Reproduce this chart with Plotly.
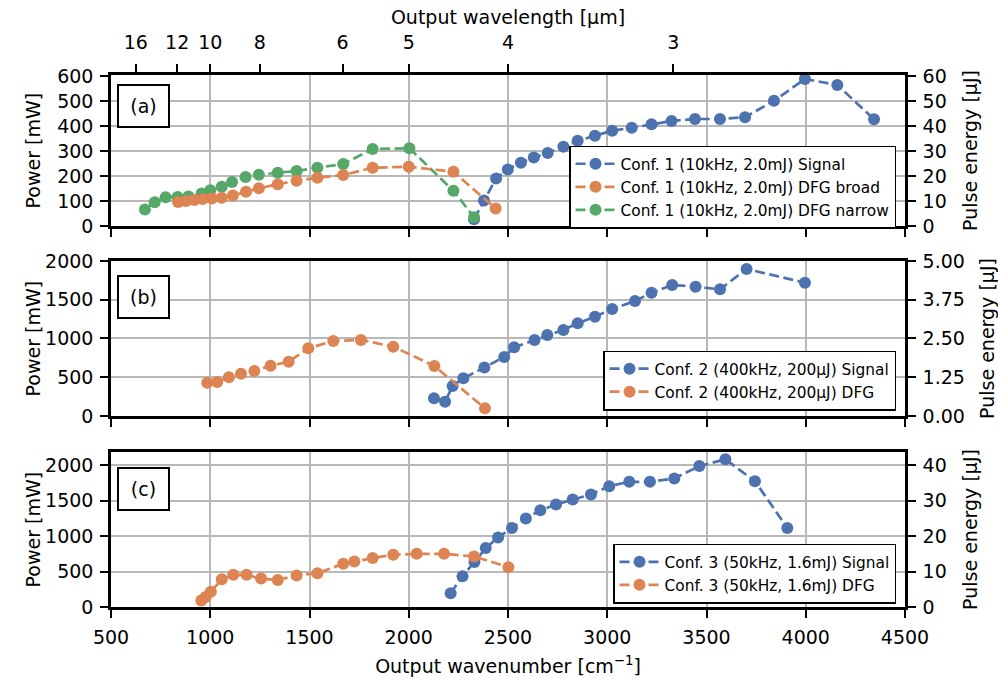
import plotly.graph_objects as go

# ---------------- data ----------------
# Panel (a): Conf. 1 (10kHz, 2.0mJ)
sig1_x = [2329, 2379, 2440, 2499, 2565, 2630, 2700, 2779, 2851, 2938, 3025, 3123, 3223, 3324, 3442, 3568, 3694, 3840, 3996, 4159, 4344]
sig1_y = [27, 102, 190, 226, 253, 274, 292, 317, 341, 361, 381, 393, 407, 420, 428, 428, 435, 501, 588, 564, 427]
broad1_x = [838, 878, 920, 962, 1008, 1058, 1114, 1180, 1245, 1340, 1435, 1540, 1670, 1818, 2000, 2225, 2438]
broad1_y = [96, 100, 104, 108, 110, 113, 122, 137, 151, 167, 181, 193, 204, 233, 237, 217, 70]
narrow1_x = [671, 720, 775, 835, 890, 957, 1000, 1058, 1110, 1178, 1245, 1340, 1435, 1540, 1670, 1818, 2003, 2225, 2329]
narrow1_y = [66, 95, 115, 116, 118, 130, 143, 157, 176, 196, 205, 213, 220, 233, 248, 308, 311, 141, 35]

# Panel (b): Conf. 2 (400kHz, 200µJ)
sig2_x = [2127, 2183, 2221, 2275, 2381, 2481, 2531, 2634, 2698, 2779, 2851, 2938, 3025, 3140, 3223, 3327, 3445, 3568, 3702, 3996]
sig2_y = [228, 185, 387, 486, 626, 762, 886, 981, 1045, 1110, 1196, 1282, 1381, 1484, 1591, 1690, 1669, 1634, 1897, 1720]
dfg2_x = [985, 1035, 1094, 1155, 1222, 1304, 1395, 1494, 1620, 1759, 1922, 2129, 2384]
dfg2_y = [430, 440, 499, 546, 581, 649, 701, 873, 968, 981, 895, 645, 99]

# Panel (c): Conf. 3 (50kHz, 1.6mJ)
sig3_x = [2211, 2271, 2331, 2388, 2450, 2520, 2590, 2663, 2742, 2826, 2918, 3010, 3111, 3215, 3338, 3464, 3595, 3744, 3907]
sig3_y = [193, 434, 635, 830, 981, 1114, 1246, 1364, 1444, 1514, 1585, 1703, 1764, 1764, 1812, 1986, 2081, 1774, 1114]
dfg3_x = [955, 977, 1003, 1058, 1116, 1183, 1256, 1340, 1435, 1540, 1670, 1726, 1818, 1922, 2040, 2178, 2329, 2502]
dfg3_y = [90, 140, 215, 392, 453, 453, 400, 382, 443, 477, 609, 642, 689, 736, 750, 750, 712, 562]

# axis ticks
wn_ticks = [500, 1000, 1500, 2000, 2500, 3000, 3500, 4000, 4500]
wl_labels = [16, 12, 10, 8, 6, 5, 4, 3]
ya_ticks = [0, 100, 200, 300, 400, 500, 600]
ya_r_ticks = [0, 10, 20, 30, 40, 50, 60]
yb_ticks = [0, 500, 1000, 1500, 2000]
yb_r_ticks = [0, 1.25, 2.5, 3.75, 5.0]
yb_r_text = ["0.00", "1.25", "2.50", "3.75", "5.00"]
yc_ticks = [0, 500, 1000, 1500, 2000]
yc_r_ticks = [0, 10, 20, 30, 40]

BLUE = "#4c72b0"
ORANGE = "#dd8452"
GREEN = "#55a868"
FONT = "DejaVu Sans"
FS = 19          # ticks, titles, panel labels
LFS = 15.4       # legend

fig = go.Figure()


def add(x, y, name, color, xa, ya, legend, rank):
    fig.add_trace(go.Scatter(
        x=x, y=y, name=name, mode="lines+markers",
        line=dict(color=color, width=2.7, dash="10px,4.5px"),
        marker=dict(color=color, size=12, line=dict(width=0)),
        xaxis=xa, yaxis=ya, legend=legend, legendrank=rank,
    ))


add(sig1_x, sig1_y, "Conf. 1 (10kHz, 2.0mJ) Signal", BLUE, "x", "y", "legend", 1)
add(narrow1_x, narrow1_y, "Conf. 1 (10kHz, 2.0mJ) DFG narrow", GREEN, "x", "y", "legend", 3)
add(broad1_x, broad1_y, "Conf. 1 (10kHz, 2.0mJ) DFG broad", ORANGE, "x", "y", "legend", 2)
add(sig2_x, sig2_y, "Conf. 2 (400kHz, 200µJ) Signal", BLUE, "x2", "y3", "legend2", 1)
add(dfg2_x, dfg2_y, "Conf. 2 (400kHz, 200µJ) DFG", ORANGE, "x2", "y3", "legend2", 2)
add(sig3_x, sig3_y, "Conf. 3 (50kHz, 1.6mJ) Signal", BLUE, "x3", "y5", "legend3", 1)
add(dfg3_x, dfg3_y, "Conf. 3 (50kHz, 1.6mJ) DFG", ORANGE, "x3", "y5", "legend3", 2)

# empty helper traces so that the secondary axes get drawn
for xa, ya in [("x", "y2"), ("x2", "y4"), ("x3", "y6"), ("x4", "y")]:
    fig.add_trace(go.Scatter(x=[None], y=[None], xaxis=xa, yaxis=ya, mode="markers",
                             showlegend=False, hoverinfo="skip"))

GRID = "#b8b8b8"
common_axis = dict(
    showline=True, linecolor="black", linewidth=2.5,
    ticks="outside", ticklen=8, tickwidth=2, tickcolor="black",
    tickfont=dict(family=FONT, size=FS, color="black"),
    zeroline=False, ticklabelstandoff=3, automargin=False,
)


def title(text, standoff):
    return dict(text=text, font=dict(family=FONT, size=FS, color="black"), standoff=standoff)


def xax(anchor, labels, **kw):
    d = dict(common_axis)
    d.update(domain=[0, 1], anchor=anchor, range=[500, 4500],
             tickvals=wn_ticks, showticklabels=labels,
             showgrid=True, gridcolor=GRID, gridwidth=2, mirror=True)
    d.update(kw)
    return d


def yleft(domain, anchor, rng, ticks):
    d = dict(common_axis)
    d.update(domain=domain, anchor=anchor, range=rng, tickvals=ticks,
             showgrid=True, gridcolor=GRID, gridwidth=2)
    return d


def yright(over, anchor, rng, ticks, standoff, text=None):
    d = dict(common_axis)
    d.update(overlaying=over, anchor=anchor, side="right", range=rng, tickvals=ticks,
             showgrid=False, title=title("Pulse energy [µJ]", standoff))
    if text is not None:
        d["ticktext"] = text
    return d


dom_a = [0.7162, 1.0]
dom_b = [0.359, 0.6504]
dom_c = [0.0, 0.2914]

legend_common = dict(
    bgcolor="white", bordercolor="black", borderwidth=1.5,
    font=dict(family=FONT, size=LFS, color="black"),
    xanchor="right", yanchor="bottom", tracegroupgap=0, itemwidth=40,
)

top_axis = dict(common_axis)
top_axis.update(overlaying="x", anchor="y", side="top", range=[500, 4500],
                tickvals=[10000 / w for w in wl_labels], ticktext=[str(w) for w in wl_labels],
                showgrid=False, ticklabelstandoff=8, title=title("Output wavelength [µm]", 2))

fig.update_layout(
    width=998, height=681,
    margin=dict(l=111, r=93, t=75, b=74, autoexpand=False),
    plot_bgcolor="white", paper_bgcolor="white",
    font=dict(family=FONT, size=FS, color="black"),
    xaxis=xax("y", False),
    xaxis2=xax("y3", False),
    xaxis3=xax("y5", True, title=title("Output wavenumber [cm<sup>−1</sup>]", 14)),
    xaxis4=top_axis,
    yaxis=yleft(dom_a, "x", [0, 604], ya_ticks),
    yaxis2=yright("y", "x", [0, 60.4], ya_r_ticks, 18),
    yaxis3=yleft(dom_b, "x2", [0, 2000], yb_ticks),
    yaxis4=yright("y3", "x2", [0, 5.0], yb_r_ticks, 19, yb_r_text),
    yaxis5=yleft(dom_c, "x3", [0, 2185], yc_ticks),
    yaxis6=yright("y5", "x3", [0, 43.7], yc_r_ticks, 18),
    legend=dict(legend_common, x=0.9887, y=0.711),
    legend2=dict(legend_common, x=0.9887, y=0.369),
    legend3=dict(legend_common, x=0.9887, y=0.006),
    showlegend=True,
)

# left axis titles (aligned to the same x for all panels, like the reference)
for dom in (dom_a, dom_b, dom_c):
    fig.add_annotation(
        text="Power [mW]", xref="paper", yref="paper",
        x=-0.097, y=(dom[0] + dom[1]) / 2, xanchor="center", yanchor="middle",
        textangle=-90, showarrow=False, font=dict(family=FONT, size=FS, color="black"),
    )

for lbl, ytop in [("(a)", 0.9825), ("(b)", 0.624), ("(c)", 0.2637)]:
    fig.add_annotation(
        text=lbl, xref="paper", yref="paper", x=0.0079, y=ytop,
        xanchor="left", yanchor="top", showarrow=False,
        font=dict(family=FONT, size=FS, color="black"),
        bordercolor="black", borderwidth=2, borderpad=2, bgcolor="white",
        width=45, height=36,
    )

fig.write_html("out.html")
